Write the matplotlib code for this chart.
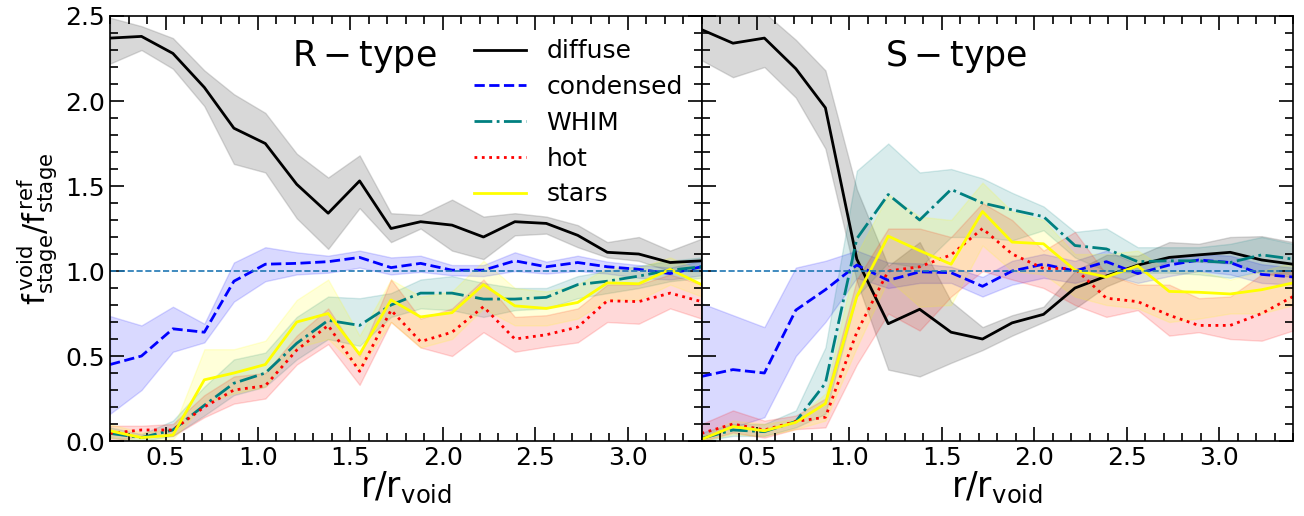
import matplotlib.pyplot as plt

# radial bins (r / r_void)
r = [0.20, 0.37, 0.54, 0.71, 0.87, 1.04, 1.21, 1.38, 1.55, 1.72,
     1.88, 2.05, 2.22, 2.39, 2.56, 2.73, 2.89, 3.06, 3.23, 3.40]

# ---- R-type voids ----
R_diffuse = [2.37, 2.38, 2.28, 2.08, 1.84, 1.75, 1.51, 1.34, 1.53, 1.25,
             1.29, 1.27, 1.20, 1.29, 1.28, 1.21, 1.11, 1.10, 1.05, 1.06]
R_diffuse_lo = [2.22, 2.30, 2.19, 1.97, 1.63, 1.58, 1.31, 1.13, 1.37, 1.17,
                1.25, 1.12, 1.07, 1.21, 1.22, 1.14, 1.08, 1.06, 1.00, 1.00]
R_diffuse_hi = [2.49, 2.44, 2.37, 2.18, 2.04, 1.93, 1.69, 1.55, 1.68, 1.34,
                1.33, 1.42, 1.32, 1.34, 1.32, 1.27, 1.17, 1.20, 1.12, 1.19]

R_cond = [0.45, 0.50, 0.66, 0.64, 0.94, 1.04, 1.045, 1.055, 1.08, 1.02,
          1.045, 1.005, 1.005, 1.06, 1.025, 1.05, 1.025, 1.01, 0.985, 1.025]
R_cond_lo = [0.16, 0.30, 0.525, 0.58, 0.82, 0.94, 0.98, 0.99, 1.02, 0.98,
             0.995, 0.975, 0.97, 1.00, 0.985, 1.00, 0.985, 0.96, 0.95, 0.975]
R_cond_hi = [0.735, 0.68, 0.79, 0.69, 1.05, 1.14, 1.11, 1.09, 1.12, 1.08,
             1.09, 1.035, 1.035, 1.11, 1.055, 1.09, 1.055, 1.035, 1.02, 1.06]

R_whim = [0.045, 0.02, 0.065, 0.21, 0.34, 0.40, 0.575, 0.71, 0.68, 0.80,
          0.87, 0.87, 0.835, 0.835, 0.845, 0.92, 0.94, 0.97, 1.005, 1.025]
R_whim_lo = [0.02, 0.0, 0.03, 0.15, 0.27, 0.32, 0.48, 0.60, 0.56, 0.73,
             0.78, 0.77, 0.73, 0.77, 0.78, 0.84, 0.87, 0.90, 0.94, 0.96]
R_whim_hi = [0.08, 0.04, 0.12, 0.32, 0.48, 0.52, 0.73, 0.85, 0.84, 0.87,
             0.95, 0.97, 0.93, 0.90, 0.90, 0.97, 1.00, 1.03, 1.06, 1.08]

R_hot = [0.045, 0.065, 0.065, 0.20, 0.30, 0.325, 0.535, 0.68, 0.41, 0.77,
         0.585, 0.64, 0.79, 0.60, 0.625, 0.67, 0.825, 0.82, 0.87, 0.82]
R_hot_lo = [0.0, 0.03, 0.03, 0.14, 0.22, 0.25, 0.45, 0.57, 0.33, 0.70,
            0.55, 0.50, 0.64, 0.525, 0.555, 0.58, 0.70, 0.69, 0.78, 0.72]
R_hot_hi = [0.09, 0.09, 0.10, 0.27, 0.38, 0.40, 0.62, 0.78, 0.50, 0.95,
            0.72, 0.78, 0.95, 0.73, 0.74, 0.78, 0.92, 0.92, 0.98, 0.92]

R_stars = [0.06, 0.02, 0.035, 0.36, 0.40, 0.45, 0.70, 0.75, 0.51, 0.83,
           0.73, 0.755, 0.92, 0.795, 0.78, 0.815, 0.93, 0.925, 1.01, 0.92]
R_stars_lo = [0.02, 0.0, 0.01, 0.22, 0.28, 0.32, 0.55, 0.60, 0.42, 0.70,
              0.55, 0.60, 0.78, 0.68, 0.68, 0.72, 0.83, 0.83, 0.92, 0.85]
R_stars_hi = [0.10, 0.05, 0.07, 0.54, 0.54, 0.59, 0.83, 0.95, 0.62, 0.95,
              0.85, 0.88, 1.06, 0.90, 0.88, 0.92, 1.02, 1.02, 1.08, 1.00]

# ---- S-type voids ----
S_diffuse = [2.42, 2.34, 2.37, 2.19, 1.96, 1.07, 0.69, 0.775, 0.64, 0.60,
             0.695, 0.745, 0.90, 0.97, 1.035, 1.08, 1.095, 1.11, 1.065, 1.04]
S_diffuse_lo = [2.24, 2.14, 2.20, 2.02, 1.72, 0.94, 0.42, 0.38, 0.46, 0.535,
                0.62, 0.70, 0.78, 0.91, 0.985, 1.055, 1.055, 1.045, 0.985, 0.965]
S_diffuse_hi = [2.52, 2.50, 2.52, 2.36, 2.18, 1.48, 1.03, 1.17, 0.82, 0.67,
                0.74, 0.79, 1.00, 1.095, 1.09, 1.17, 1.16, 1.20, 1.205, 1.17]

S_cond = [0.38, 0.42, 0.40, 0.77, 0.89, 1.035, 0.945, 0.995, 0.99, 0.91,
          1.00, 1.04, 1.00, 1.055, 0.985, 1.035, 1.065, 1.05, 0.98, 0.965]
S_cond_lo = [0.02, 0.08, 0.14, 0.50, 0.70, 0.96, 0.90, 0.93, 0.93, 0.85,
             0.92, 0.96, 0.93, 0.98, 0.93, 0.97, 1.00, 0.98, 0.93, 0.92]
S_cond_hi = [0.81, 0.74, 0.67, 1.02, 1.06, 1.12, 1.05, 1.045, 1.025, 0.965,
             1.06, 1.10, 1.06, 1.12, 1.04, 1.08, 1.10, 1.09, 1.04, 1.02]

S_whim = [0.015, 0.065, 0.055, 0.115, 0.34, 1.19, 1.45, 1.30, 1.48, 1.40,
          1.36, 1.32, 1.15, 1.13, 1.055, 1.06, 1.06, 1.05, 1.095, 1.07]
S_whim_lo = [0.0, 0.03, 0.03, 0.08, 0.16, 0.85, 1.05, 1.02, 1.20, 1.20,
             1.18, 1.24, 1.08, 1.00, 0.99, 0.99, 0.98, 0.96, 1.00, 0.98]
S_whim_hi = [0.05, 0.10, 0.10, 0.18, 0.55, 1.59, 1.75, 1.58, 1.60, 1.545,
             1.46, 1.38, 1.23, 1.25, 1.14, 1.14, 1.14, 1.16, 1.20, 1.16]

S_hot = [0.045, 0.10, 0.065, 0.115, 0.14, 0.64, 1.00, 1.025, 1.095, 1.25,
         1.10, 1.015, 1.015, 0.84, 0.82, 0.74, 0.68, 0.68, 0.75, 0.85]
S_hot_lo = [0.0, 0.05, 0.02, 0.07, 0.08, 0.45, 0.75, 0.65, 0.85, 1.00,
            0.95, 0.90, 0.80, 0.73, 0.77, 0.62, 0.64, 0.60, 0.59, 0.65]
S_hot_hi = [0.10, 0.18, 0.12, 0.15, 0.25, 0.95, 1.25, 1.25, 1.20, 1.40,
            1.30, 1.12, 1.23, 0.98, 0.92, 0.92, 0.84, 0.85, 0.98, 1.00]

S_stars = [0.01, 0.085, 0.06, 0.11, 0.22, 0.85, 1.205, 1.12, 1.04, 1.35,
           1.17, 1.16, 1.005, 0.965, 1.03, 0.88, 0.875, 0.865, 0.89, 0.93]
S_stars_lo = [0.0, 0.04, 0.03, 0.07, 0.12, 0.55, 0.95, 0.79, 0.80, 1.15,
              1.00, 0.98, 0.85, 0.80, 0.78, 0.70, 0.72, 0.75, 0.75, 0.80]
S_stars_hi = [0.03, 0.12, 0.10, 0.13, 0.28, 1.10, 1.45, 1.32, 1.30, 1.52,
              1.35, 1.30, 1.10, 1.10, 1.12, 1.00, 1.00, 0.95, 1.00, 1.05]

labels = ['diffuse', 'condensed', 'WHIM', 'hot', 'stars']
colors = ['black', 'blue', 'teal', 'red', 'yellow']
styles = ['-', '--', '-.', ':', '-']
fill_alpha = [0.3, 0.15, 0.15, 0.15, 0.15]

panels = [
    (r'$\mathrm{R-type}$',
     [(R_diffuse, R_diffuse_lo, R_diffuse_hi),
      (R_cond, R_cond_lo, R_cond_hi),
      (R_whim, R_whim_lo, R_whim_hi),
      (R_hot, R_hot_lo, R_hot_hi),
      (R_stars, R_stars_lo, R_stars_hi)]),
    (r'$\mathrm{S-type}$',
     [(S_diffuse, S_diffuse_lo, S_diffuse_hi),
      (S_cond, S_cond_lo, S_cond_hi),
      (S_whim, S_whim_lo, S_whim_hi),
      (S_hot, S_hot_lo, S_hot_hi),
      (S_stars, S_stars_lo, S_stars_hi)]),
]

fig, axes = plt.subplots(1, 2, sharey=True, figsize=(13.04, 5.16), dpi=100)
fig.subplots_adjust(left=0.0844, right=0.9916, bottom=0.1453, top=0.969, wspace=0)

for ax, (title, series) in zip(axes, panels):
    for (mid, lo, hi), lab, c, ls, a in zip(series, labels, colors, styles, fill_alpha):
        fc = 'gray' if c == 'black' else c
        ax.fill_between(r, lo, hi, color=fc, alpha=a)
        ax.plot(r, mid, color=c, ls=ls, lw=2, label=lab)
    ax.axhline(1.0, color='C0', ls='--', lw=1.2)
    ax.text(0.43, 0.905, title, transform=ax.transAxes, ha='center', va='center', fontsize=25)
    ax.set_xlim(0.2, 3.4)
    ax.set_ylim(0, 2.5)
    ax.set_xticks([0.5, 1.0, 1.5, 2.0, 2.5, 3.0])
    ax.set_xticks([x / 10 for x in range(2, 35)], minor=True)
    ax.set_yticks([0.0, 0.5, 1.0, 1.5, 2.0, 2.5])
    ax.set_yticks([y / 10 for y in range(0, 26)], minor=True)
    ax.tick_params(which='both', direction='in', top=True, right=True, labelsize=18, width=1.2)
    ax.tick_params(which='major', length=10)
    ax.tick_params(which='minor', length=5.5)
    for sp in ax.spines.values():
        sp.set_linewidth(1.2)
    ax.set_xlabel(r'$\mathrm{r/r_{void}}$', fontsize=25, labelpad=0)

axes[0].set_ylabel(r'$\mathrm{f^{\,void}_{stage}/f^{\,ref}_{stage}}$', fontsize=22, labelpad=4)
axes[0].legend(loc='upper left', bbox_to_anchor=(0.615, 0.945), frameon=False, fontsize=18,
               labelspacing=0.47, handlelength=2.1, borderpad=0, borderaxespad=0)

plt.savefig('out.png', dpi=100)
